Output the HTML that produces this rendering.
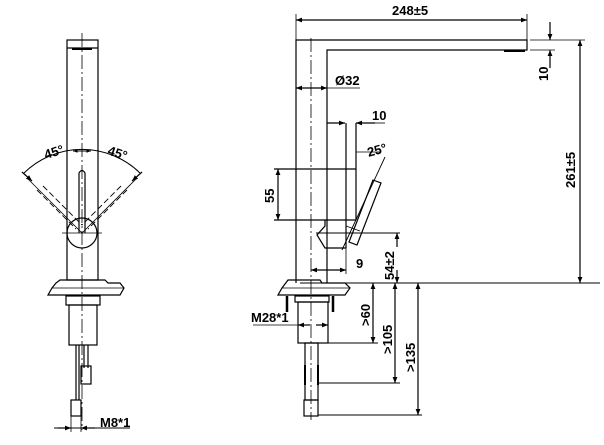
<!DOCTYPE html>
<html><head><meta charset="utf-8"><style>
html,body{margin:0;padding:0;background:#fff;}
svg{display:block;}
text{font-family:"Liberation Sans",sans-serif;font-weight:bold;font-size:13px;fill:#000;}
</style></head><body>
<svg width="604" height="445" viewBox="0 0 604 445" xmlns="http://www.w3.org/2000/svg">
<defs>
<marker id="a" viewBox="0 0 10 10" refX="10" refY="5" markerWidth="7" markerHeight="5" orient="auto-start-reverse"><path d="M0,1 L10,5 L0,9 z" fill="#000"/></marker>
</defs>
<g stroke="#000" fill="none" stroke-width="1.2">
<rect x="67" y="40" width="31" height="240"/>
<line x1="67" y1="48" x2="98" y2="48"/>
<line x1="72" y1="49" x2="92" y2="49" stroke-width="2"/>
<line x1="82" y1="33" x2="82" y2="430" stroke-dasharray="14,3,2,3" stroke-width="0.8"/>
<path d="M79,233 L79,173 Q82,168 85,173 L85,233"/>
<circle cx="82" cy="233" r="15"/>
<line x1="62" y1="233" x2="102" y2="233" stroke-width="0.8"/>
<path d="M24,173 A83,83 0 0 1 140,173" stroke-width="1"/>
<line x1="22" y1="172" x2="32" y2="181" marker-end="url(#a)"/>
<line x1="142" y1="172" x2="132" y2="181" marker-end="url(#a)"/>
<line x1="82" y1="233" x2="28" y2="179" stroke-width="0.8"/>
<line x1="82" y1="233" x2="136" y2="179" stroke-width="0.8"/>
<path d="M37,190 L76,229 M43,186 L82,225" stroke-dasharray="6,3" stroke-width="0.9"/>
<path d="M127,190 L88,229 M121,186 L82,225" stroke-dasharray="6,3" stroke-width="0.9"/>
<line x1="73" y1="151" x2="91" y2="151" marker-start="url(#a)" marker-end="url(#a)" stroke-width="0.9"/>
<path d="M60,280 L105,280 L108,283 L120,283 L124,288 L120,295 L48,295 L52,288 L56,283 Z"/>
<line x1="52" y1="288" x2="124" y2="288" stroke-width="0.8"/>
<rect x="66" y="296" width="34" height="9"/>
<rect x="69" y="305" width="28" height="40"/>
<line x1="76" y1="345" x2="76" y2="400"/><line x1="79" y1="345" x2="79" y2="400"/>
<line x1="84" y1="345" x2="84" y2="368"/><line x1="88" y1="345" x2="88" y2="368"/>
<rect x="81" y="366" width="10" height="18"/>
<rect x="71" y="400" width="10" height="16"/>
<line x1="54" y1="428" x2="130" y2="428" stroke-width="0.9"/>
<line x1="58" y1="428" x2="71" y2="428" marker-end="url(#a)"/>
<line x1="95" y1="428" x2="81" y2="428" marker-end="url(#a)"/>
<line x1="71" y1="416" x2="71" y2="432" stroke-width="0.8"/>
<line x1="81" y1="416" x2="81" y2="432" stroke-width="0.8"/>

<path d="M296,283 L296,40 L527,40 L527,50 L327,50 L327,283"/>
<line x1="311" y1="38" x2="311" y2="420" stroke-dasharray="14,3,2,3" stroke-width="0.8"/>
<line x1="504" y1="51" x2="525" y2="51" stroke-width="2"/>
<line x1="296" y1="20" x2="527" y2="20" marker-start="url(#a)" marker-end="url(#a)"/>
<line x1="296" y1="14" x2="296" y2="40" stroke-width="0.8"/>
<line x1="527" y1="14" x2="527" y2="40" stroke-width="0.8"/>
<line x1="530" y1="40" x2="585" y2="40" stroke-width="0.8"/>
<line x1="530" y1="50" x2="555" y2="50" stroke-width="0.8"/>
<line x1="550" y1="22" x2="550" y2="40" marker-end="url(#a)"/>
<line x1="550" y1="68" x2="550" y2="50" marker-end="url(#a)"/>
<line x1="580" y1="40" x2="580" y2="283" marker-start="url(#a)" marker-end="url(#a)"/>
<line x1="300" y1="283" x2="600" y2="283" stroke-width="0.9"/>
<line x1="296" y1="88" x2="327" y2="88" marker-start="url(#a)" marker-end="url(#a)"/>
<line x1="327" y1="88" x2="360" y2="88" stroke-width="0.8"/>
<line x1="327" y1="123" x2="345" y2="123" marker-end="url(#a)"/>
<line x1="375" y1="123" x2="356" y2="123" marker-end="url(#a)"/>
<line x1="375" y1="123" x2="385" y2="123" stroke-width="0.8"/>
<line x1="346" y1="123" x2="346" y2="248"/>
<line x1="356" y1="123" x2="356" y2="220"/>
<line x1="356" y1="152" x2="380" y2="152" stroke-width="0.8"/>
<line x1="274" y1="169" x2="356" y2="169"/>
<line x1="274" y1="220" x2="356" y2="220"/>
<line x1="278" y1="169" x2="278" y2="220" marker-start="url(#a)" marker-end="url(#a)"/>
<path d="M325,220 L325,226 L317,235 L325,248 L346,248"/>
<line x1="316" y1="233" x2="400" y2="233" stroke-width="0.9"/>
<line x1="342" y1="250" x2="385" y2="157" stroke-width="0.9"/>
<path d="M373,180 L381,183 L357,245 L349,242 Z"/>
<line x1="346" y1="226" x2="360" y2="231" stroke-width="0.8"/>
<line x1="397" y1="247" x2="397" y2="233" marker-end="url(#a)"/>
<line x1="397" y1="270" x2="397" y2="283" marker-end="url(#a)"/>
<line x1="311" y1="270" x2="346" y2="270" marker-start="url(#a)" marker-end="url(#a)"/>
<line x1="346" y1="248" x2="346" y2="274" stroke-width="0.8"/>
<path d="M288,280 L320,280 L322,283 L345,283 L350,288 L345,295 L278,295 L282,288 Z"/>
<line x1="282" y1="288" x2="350" y2="288" stroke-width="0.8"/>
<line x1="287" y1="296" x2="287" y2="312" stroke-width="2.5"/>
<line x1="333" y1="296" x2="333" y2="312" stroke-width="2.5"/>
<rect x="295" y="296" width="34" height="6"/>
<rect x="298" y="302" width="30" height="41"/>
<line x1="253" y1="325" x2="298" y2="325" stroke-width="0.8"/>
<line x1="298" y1="325" x2="310" y2="325" marker-start="url(#a)"/>
<line x1="316" y1="325" x2="328" y2="325" marker-end="url(#a)"/>
<rect x="305" y="343" width="13" height="57"/>
<line x1="305" y1="365" x2="305" y2="385" stroke-width="2"/>
<line x1="318" y1="365" x2="318" y2="385" stroke-width="2"/>
<rect x="304" y="400" width="14" height="16"/>
<line x1="328" y1="343" x2="378" y2="343" stroke-width="0.9"/>
<line x1="318" y1="383" x2="400" y2="383" stroke-width="0.9"/>
<line x1="318" y1="415" x2="422" y2="415" stroke-width="0.9"/>
<line x1="373" y1="283" x2="373" y2="343" marker-start="url(#a)" marker-end="url(#a)"/>
<line x1="395" y1="283" x2="395" y2="383" marker-start="url(#a)" marker-end="url(#a)"/>
<line x1="418" y1="283" x2="418" y2="415" marker-start="url(#a)" marker-end="url(#a)"/>
</g>
<text x="44" y="157" transform="rotate(-18 52 152)">45°</text>
<text x="108" y="157" transform="rotate(18 116 152)">45°</text>
<text x="100" y="427">M8*1</text>
<text x="392" y="15">248±5</text>
<text x="335" y="85">Ø32</text>
<text x="372" y="120">10</text>
<text x="367" y="155" transform="rotate(-15 375 150)">25°</text>
<text x="356" y="268">9</text>
<text x="251" y="322">M28*1</text>
<text transform="translate(548,81) rotate(-90)">10</text>
<text transform="translate(575,188) rotate(-90)">261±5</text>
<text transform="translate(274,203) rotate(-90)">55</text>
<text transform="translate(394,280) rotate(-90)">54±2</text>
<text transform="translate(370,326) rotate(-90)">&gt;60</text>
<text transform="translate(392,354) rotate(-90)">&gt;105</text>
<text transform="translate(415,372) rotate(-90)">&gt;135</text>
</svg>
</body></html>
